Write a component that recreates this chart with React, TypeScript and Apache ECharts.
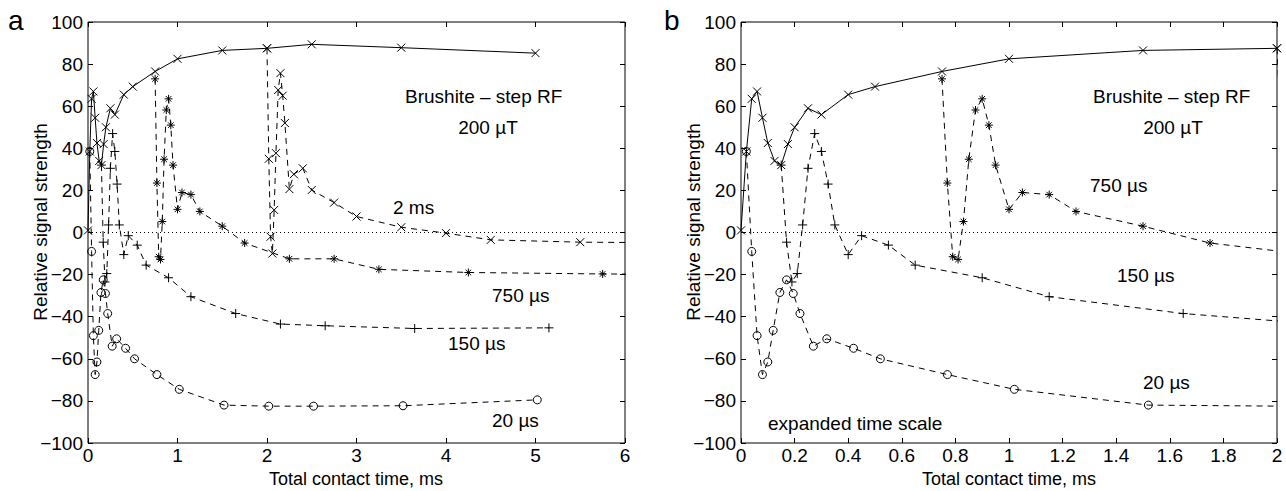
import React, { useEffect, useRef } from 'react';
import * as echarts from 'echarts';

// Cross-polarisation build-up (solid, x markers)
const buildX = [0, 0.02, 0.04, 0.06, 0.08, 0.1, 0.125, 0.15, 0.175, 0.2, 0.25, 0.3, 0.4, 0.5, 0.75, 1.0, 1.5, 2.0, 2.5, 3.5, 5.0];
const buildY = [1, 38.5, 63.5, 67, 54.5, 42.5, 34, 32, 42, 50, 59, 56, 65.5, 69.3, 76.5, 82.5, 86.5, 87.5, 89.4, 87.8, 85.2];

// 20 µs contact (open circles)
const c20X = [0.02, 0.04, 0.06, 0.08, 0.1, 0.12, 0.145, 0.17, 0.195, 0.22, 0.27, 0.32, 0.42, 0.52, 0.77, 1.02, 1.52, 2.02, 2.52, 3.52, 5.02];
const c20Y = [38.5, -9, -49, -67.5, -61.5, -46.5, -28.5, -22.5, -29, -38.5, -54, -50.5, -55, -60, -67.5, -74.5, -82, -82.5, -82.5, -82.3, -79.5];

// 150 µs contact (plus markers)
const c150X = [0.15, 0.17, 0.19, 0.21, 0.23, 0.25, 0.275, 0.3, 0.325, 0.35, 0.4, 0.45, 0.55, 0.65, 0.9, 1.15, 1.65, 2.15, 2.65, 3.65, 5.15];
const c150Y = [32, -4.6, -23.5, -19.5, 3.6, 30.5, 47, 38.5, 23, 3.6, -10.5, -1.5, -6, -15.5, -21.5, -30.5, -38.5, -43.5, -44.3, -45.6, -45.3];

// 750 µs contact (asterisks)
const c750X = [0.75, 0.77, 0.79, 0.81, 0.83, 0.85, 0.875, 0.9, 0.925, 0.95, 1.0, 1.05, 1.15, 1.25, 1.5, 1.75, 2.25, 2.75, 3.25, 4.25, 5.75, 7.75];
const c750Y = [73, 23.5, -11.5, -12.8, 5.2, 34.8, 58.2, 63.5, 51, 32, 11, 19, 18, 10, 3, -5, -12.5, -12.5, -17.5, -19, -19.7, -20];

// 2 ms contact (x markers, dashed)
const c2X = [2.0, 2.02, 2.04, 2.06, 2.08, 2.1, 2.125, 2.15, 2.175, 2.2, 2.25, 2.3, 2.4, 2.5, 2.75, 3.0, 3.5, 4.0, 4.5, 5.5, 7.0];
const c2Y = [87.5, 35, -2, -10, 10.7, 37.7, 67.7, 75.7, 65, 52, 20.6, 27.7, 30.5, 20.2, 14.2, 7.6, 2.5, -0.3, -3.5, -4.6, -5];

const yMin = -100, yMax = 100, yStep = 20;
const xA = { min: 0, max: 6, step: 1 };
const xB = { min: 0, max: 2, step: 0.2 };

const FONT = '"Liberation Sans", Arial, Helvetica, sans-serif';

const SYM = {
  cross: 'path://M0,0L10,10M10,0L0,10',
  plus: 'path://M5,0L5,10M0,5L10,5',
  star: 'path://M1.5,1.5L8.5,8.5M8.5,1.5L1.5,8.5M5,0L5,10M0,5L10,5',
};

const pairs = (xs: number[], ys: number[]) => xs.map((x, i) => [x, ys[i]]);

function mkSeries(data: number[][], symbol: string, size: number, dashed: boolean, ai: number, zero: boolean) {
  const s: any = {
    type: 'line',
    data,
    xAxisIndex: ai,
    yAxisIndex: ai,
    symbol,
    symbolSize: size,
    showSymbol: true,
    clip: true,
    silent: true,
    lineStyle: { color: '#000', width: 1, type: dashed ? [6, 5] : 'solid' },
    itemStyle: { color: 'rgba(0,0,0,0)', borderColor: '#000', borderWidth: 1 },
    emphasis: { disabled: true },
  };
  if (zero) {
    s.markLine = {
      silent: true,
      symbol: ['none', 'none'],
      label: { show: false },
      lineStyle: { color: '#000', width: 1, type: [1, 3] },
      data: [{ yAxis: 0 }],
    };
  }
  return s;
}

function panelSeries(ai: number) {
  return [
    mkSeries(pairs(buildX, buildY), SYM.cross, 8, false, ai, true),
    mkSeries(pairs(c20X, c20Y), 'circle', 8, true, ai, false),
    mkSeries(pairs(c150X, c150Y), SYM.plus, 9, true, ai, false),
    mkSeries(pairs(c750X, c750Y), SYM.star, 8, true, ai, false),
    mkSeries(pairs(c2X, c2Y), SYM.cross, 8, true, ai, false),
  ];
}

const tickStyle = { inside: true, length: 5, lineStyle: { color: '#000', width: 1 } };
const labelStyle = { fontSize: 19, color: '#000', fontFamily: FONT };

function xAxes(grid: number, r: { min: number; max: number; step: number }) {
  const base = {
    gridIndex: grid,
    type: 'value',
    min: r.min,
    max: r.max,
    interval: r.step,
    axisLine: { show: false, onZero: false },
    axisTick: tickStyle,
    splitLine: { show: false },
  };
  return [
    {
      ...base,
      position: 'bottom',
      axisLabel: { ...labelStyle, margin: 3, formatter: (v: number) => String(+v.toFixed(1)) },
    },
    { ...base, position: 'top', axisLabel: { show: false } },
  ];
}

function yAxes(grid: number) {
  const base = {
    gridIndex: grid,
    type: 'value',
    min: yMin,
    max: yMax,
    interval: yStep,
    axisLine: { show: false, onZero: false },
    axisTick: tickStyle,
    splitLine: { show: false },
  };
  return [
    {
      ...base,
      position: 'left',
      axisLabel: { ...labelStyle, margin: 5, formatter: (v: number) => String(v).replace('-', '\u2212') },
    },
    { ...base, position: 'right', axisLabel: { show: false } },
  ];
}

function txt(text: string, x: number, y: number, size = 19, align = 'left', rotation = 0) {
  return {
    type: 'text',
    x,
    y,
    rotation,
    silent: true,
    style: { text, fill: '#000', font: `${size}px ${FONT}`, align, verticalAlign: 'middle' },
  };
}

export default function App() {
  const ref = useRef<HTMLDivElement>(null);
  useEffect(() => {
    if (!ref.current) return;
    const chart = echarts.init(ref.current, null, { renderer: 'svg' });
    const gridBase = { show: true, borderColor: '#000', borderWidth: 1, backgroundColor: 'transparent', containLabel: false };
    chart.setOption({
      animation: false,
      backgroundColor: '#fff',
      grid: [
        { ...gridBase, left: 88, top: 22, width: 537, height: 421 },
        { ...gridBase, left: 741, top: 22, width: 536, height: 421 },
      ],
      xAxis: [...xAxes(0, xA), ...xAxes(1, xB)],
      yAxis: [...yAxes(0), ...yAxes(1)],
      series: [
        ...panelSeries(0).map((s) => ({ ...s, xAxisIndex: 0, yAxisIndex: 0 })),
        ...panelSeries(2).map((s) => ({ ...s, xAxisIndex: 2, yAxisIndex: 2 })),
      ],
      graphic: [
        txt('a', 8, 20, 28),
        txt('b', 664, 20, 28),
        txt('Relative signal strength', 40, 222, 19, 'center', Math.PI / 2),
        txt('Relative signal strength', 693, 222, 19, 'center', Math.PI / 2),
        txt('Total contact time, ms', 356, 479, 18, 'center'),
        txt('Total contact time, ms', 1009, 479, 18, 'center'),
        txt('Brushite \u2013 step RF', 405, 96),
        txt('200 \u00b5T', 488, 127, 19, 'center'),
        txt('2 ms', 393, 207),
        txt('750 \u00b5s', 492, 295),
        txt('150 \u00b5s', 448, 343),
        txt('20 \u00b5s', 492, 420),
        txt('Brushite \u2013 step RF', 1093, 96),
        txt('200 \u00b5T', 1173, 127, 19, 'center'),
        txt('750 \u00b5s', 1090, 185),
        txt('150 \u00b5s', 1117, 275),
        txt('20 \u00b5s', 1143, 382),
        txt('expanded time scale', 768, 423),
      ],
    });
    return () => chart.dispose();
  }, []);
  return (
    <div
      ref={ref}
      style={{ position: 'fixed', left: 0, top: 0, width: 1286, height: 491, background: '#fff' }}
    />
  );
}
